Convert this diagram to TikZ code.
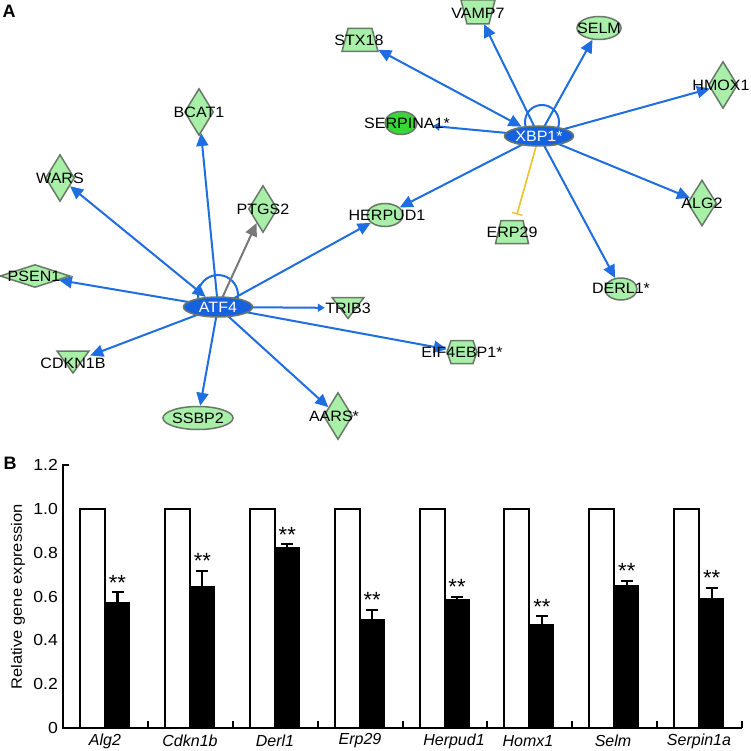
\documentclass[tikz,border=0pt]{standalone}
\usepackage{fontspec}
\setmainfont{Liberation Sans}
\newfontfamily\netfont[FakeStretch=1.07]{Liberation Sans}
\newfontfamily\tickfont[FakeStretch=1.1]{Liberation Sans}
\usetikzlibrary{shapes.geometric,arrows.meta}
\pgfdeclarelayer{bg}
\pgfsetlayers{bg,main}
\definecolor{eblue}{RGB}{30,110,225}
\definecolor{hubblue}{RGB}{22,98,222}
\definecolor{ngreen}{RGB}{168,240,168}
\definecolor{nborder}{RGB}{105,120,105}
\definecolor{sgreen}{RGB}{55,215,55}
\definecolor{egray}{RGB}{120,120,120}
\definecolor{eyellow}{RGB}{232,196,40}
\begin{document}
\begin{tikzpicture}[x=1pt,y=-1pt,
  tipA/.tip={Triangle[length=13pt,width=12pt]},
  edge/.style={draw=eblue, line width=2pt, -tipA},
  biedge/.style={draw=eblue, line width=2pt, tipA-tipA},
  gedge/.style={draw=egray, line width=2pt, -tipA},
  smalledge/.style={draw=eblue, line width=2pt, -{Triangle[length=7pt,width=8pt]}},
  yedge/.style={draw=eyellow, line width=1.6pt, -{Bar[width=11pt,line width=1.4pt]}, shorten >=6pt},
  gshape/.style={fill=ngreen, draw=nborder, line width=1.5pt},
  gnode/.style={gshape, inner sep=0},
  gdiam/.style={gnode, diamond, minimum width=29pt, minimum height=47pt},
  gell/.style={gnode, ellipse},
  hub/.style={ellipse, fill=hubblue, draw=nborder, line width=1.5pt, minimum width=69pt, minimum height=20pt, inner sep=0, text=white, font=\netfont\fontsize{15}{15}\selectfont},
  lbl/.style={font=\netfont\fontsize{15}{15}\selectfont, inner sep=0},
  anch/.style={inner sep=0, minimum width=#1},
  loopline/.style={draw=eblue, line width=2pt},
  axis/.style={line width=2pt},
  panel/.style={font=\bfseries\fontsize{18}{18}\selectfont, inner sep=0}
]
\begin{pgfonlayer}{bg}
\fill[white] (0,0) rectangle (750,751);
\end{pgfonlayer}
\useasboundingbox (0,0) rectangle (750,751);

\node[panel] (pA) at (9,11) {A};
\node[panel] (pB) at (10,463) {B};

% ---------- network: shapes ----------
\node[hub] (atf4) at (218,307) {ATF4};
\node[hub] (xbp1) at (539,136) {XBP1*};

\node[gdiam] (bcat1) at (199,112) {};
\node[gdiam] (wars) at (60,178) {};
\node[gdiam] (ptgs2) at (263,209) {};
\node[gdiam, minimum width=70pt, minimum height=23pt] (psen1) at (35,276) {};
\node[gdiam] (aars) at (338,416) {};
\node[gdiam] (hmox1) at (723,85) {};
\node[gdiam, minimum height=46pt] (alg2) at (702,203) {};
\node[gell, minimum width=70pt, minimum height=23pt] (ssbp2) at (198,418) {};
\node[gell, minimum width=36pt, minimum height=23pt] (herpud1) at (385,215) {};
\node[gell, minimum width=44pt, minimum height=23pt] (selm) at (599,28) {};
\node[gell, minimum width=32pt, minimum height=22pt] (derl1) at (621,289) {};
\node[gell, fill=sgreen, minimum width=32pt, minimum height=23pt] (serpina1) at (401,123) {};

% custom shapes with named anchor nodes
\node[anch=36pt, minimum height=23pt] (stx18) at (360,40) {};
\draw[gshape] (stx18.center) ++(-12,-11.5) -- ++(24,0) -- ++(6,23) -- ++(-36,0) -- cycle;
\node[anch=34pt, minimum height=24pt] (vamp7) at (478,12) {};
\draw[gshape] (vamp7.center) ++(-17,-12) -- ++(34,0) -- ++(-6,24) -- ++(-22,0) -- cycle;
\node[anch=33pt, minimum height=23pt] (erp29) at (512,232) {};
\draw[gshape] (erp29.center) ++(-11,-11.5) -- ++(22,0) -- ++(5.5,23) -- ++(-33,0) -- cycle;
\node[anch=34pt, minimum height=22pt] (cdkn1b) at (73,362) {};
\draw[gshape] (cdkn1b.center) ++(-16,-11) -- ++(32,0) -- ++(-16,22) -- cycle;
\node[anch=46pt, minimum height=20pt] (trib3) at (348,308) {};
\draw[gshape] (trib3.center) ++(-16,-10.5) -- ++(32,0) -- ++(-16,21) -- cycle;
\node[anch=30pt, minimum height=23pt] (eif4) at (462,352) {};
\draw[gshape] (eif4.center) ++(-15,0) -- ++(4,-11.5) -- ++(22,0) -- ++(4,11.5) -- ++(-4,11.5) -- ++(-22,0) -- cycle;

% ---------- network: labels ----------
\node[lbl] (bcat1l) at (bcat1) {BCAT1};
\node[lbl] (warsl) at (60,178) {WARS};
\node[lbl] (ptgs2l) at (263,209) {PTGS2};
\node[lbl] (psen1l) at (34,276) {PSEN1};
\node[lbl] (aarsl) at (334,416) {AARS*};
\node[lbl] (hmox1l) at (721,85) {HMOX1};
\node[lbl] (alg2l) at (702,203) {ALG2};
\node[lbl] (ssbp2l) at (198,418) {SSBP2};
\node[lbl] (herpud1l) at (387,215) {HERPUD1};
\node[lbl] (selml) at (599,28) {SELM};
\node[lbl] (derl1l) at (621,288) {DERL1*};
\node[lbl] (serpina1l) at (407,123) {SERPINA1*};
\node[lbl] (stx18l) at (359,40) {STX18};
\node[lbl] (vamp7l) at (478,13) {VAMP7};
\node[lbl] (erp29l) at (512,232) {ERP29};
\node[lbl] (cdkn1bl) at (73,363) {CDKN1B};
\node[lbl] (trib3l) at (348,308) {TRIB3};
\node[lbl] (eif4l) at (462,352) {EIF4EBP1*};

% ---------- network: connectors ----------
\begin{pgfonlayer}{bg}
\draw[loopline] (atf4.center) ++(0,-12) circle[radius=20pt];
\draw[loopline] (xbp1.center) ++(3,-14) circle[radius=17pt];
\draw[edge] (atf4.center) -- (bcat1);
\draw[biedge] (atf4) -- (wars);
\draw[gedge] (atf4.center) -- (ptgs2);
\draw[edge] (atf4.center) -- (psen1);
\draw[edge] (atf4.center) -- (cdkn1b);
\draw[smalledge] (atf4.center) -- (trib3);
\draw[edge] (atf4.center) -- (herpud1);
\draw[edge] (atf4.center) -- (eif4);
\draw[edge] (atf4.center) -- (ssbp2);
\draw[edge] (atf4.center) -- (aars);
\draw[biedge] (xbp1) -- (stx18);
\draw[edge] (xbp1.center) -- (vamp7);
\draw[edge] (xbp1.center) -- (selm);
\draw[edge] (xbp1.center) -- (hmox1);
\draw[smalledge, shorten >=15pt] (xbp1.center) -- (serpina1);
\draw[edge] (xbp1.center) -- (alg2);
\draw[edge] (xbp1.center) -- (derl1);
\draw[edge] (xbp1.center) -- (herpud1);
\draw[yedge] (xbp1.center) -- (erp29);
\end{pgfonlayer}

% ---------- bar chart ----------
\foreach \i/\v/\e/\lx/\nm in {0/0.575/0.62/105/Alg2, 1/0.648/0.717/190/Cdkn1b, 2/0.826/0.84/275/Derl1, 3/0.50/0.54/360/Erp29, 4/0.59/0.60/454/Herpud1, 5/0.475/0.51/528/Homx1, 6/0.653/0.673/613/Selm, 7/0.593/0.64/699/Serpin1a}{
  \pgfmathsetmacro\xo{63+84.875*\i}
  \pgfmathsetmacro\yt{728-219*\v}
  \pgfmathsetmacro\ye{728-219*\e}
  \draw[axis, fill=white] (\xo+17,728) rectangle (\xo+42,509);
  \fill[black] (\xo+42,728) rectangle (\xo+67,\yt);
  \draw[line width=2.2pt] (\xo+54.5,\yt) -- (\xo+54.5,\ye);
  \draw[line width=2.2pt] (\xo+48.5,\ye) -- (\xo+60.5,\ye);
  \node[anchor=base, font=\fontsize{22}{22}\selectfont, inner sep=0] (st\i) at (\xo+54.5,\ye-2) {**};
  \node[font=\itshape\fontsize{16}{16}\selectfont, inner sep=0] (xl\i) at (\lx,741) {\nm};
  \draw[axis] (\xo+84.875,728) -- (\xo+84.875,721);
}
\draw[axis] (69,465) -- (63,465) -- (63,728) -- (742,728);
\foreach \t/\tl in {0/0, 0.2/0.2, 0.4/0.4, 0.6/0.6, 0.8/0.8, 1.0/1.0, 1.2/1.2}{
  \pgfmathsetmacro\yy{728-219*\t}
  \node[anchor=east, font=\tickfont\fontsize{16}{16}\selectfont, inner sep=0] (yt\tl) at (58,\yy) {\tl};
}
\node[rotate=90, font=\tickfont\fontsize{15}{15}\selectfont, inner sep=0] (ylab) at (18,597) {Relative gene expression};
\end{tikzpicture}
\end{document}
